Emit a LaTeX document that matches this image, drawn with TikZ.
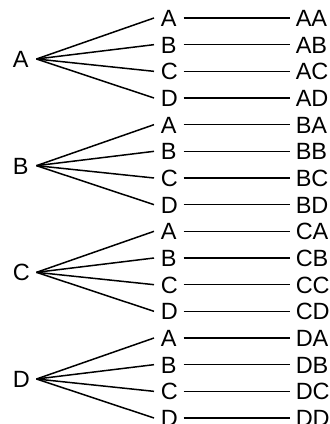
\documentclass[tikz,border=0pt]{standalone}
\usepackage{fontspec}
\setmainfont{Liberation Sans}
\begin{document}
\begin{tikzpicture}[x=1pt,y=1pt,line width=1.5pt,
    every node/.style={font=\fontsize{23.5}{28}\selectfont,inner ysep=0pt,
        text height=17pt,text depth=0pt,anchor=west},
    level 1/.style={inner xsep=5pt,text width=18pt},
    level 2/.style={inner xsep=6pt,text width=16pt},
    level 3/.style={inner xsep=5pt}]
    \useasboundingbox (0,0) rectangle (330,424);
    \foreach \g [count=\gi from 0] in {A,B,C,D}
    {
        \node[level 1] (\g) at (7,{365-106.667*\gi}) {\g};
        \foreach \c [count=\ci from 0] in {A,B,C,D}
        {
            \node[level 2] (\g\c) at (154,{406-26.667*(4*\gi+\ci)}) {\c};
            \node[level 3] (leaf\g\c) at (290,{406-26.667*(4*\gi+\ci)}) {\g\c};
            \draw (\g.east) -- (\g\c.west);
            \draw (\g\c.east) -- (leaf\g\c.west);
        }
    }
\end{tikzpicture}
\end{document}
